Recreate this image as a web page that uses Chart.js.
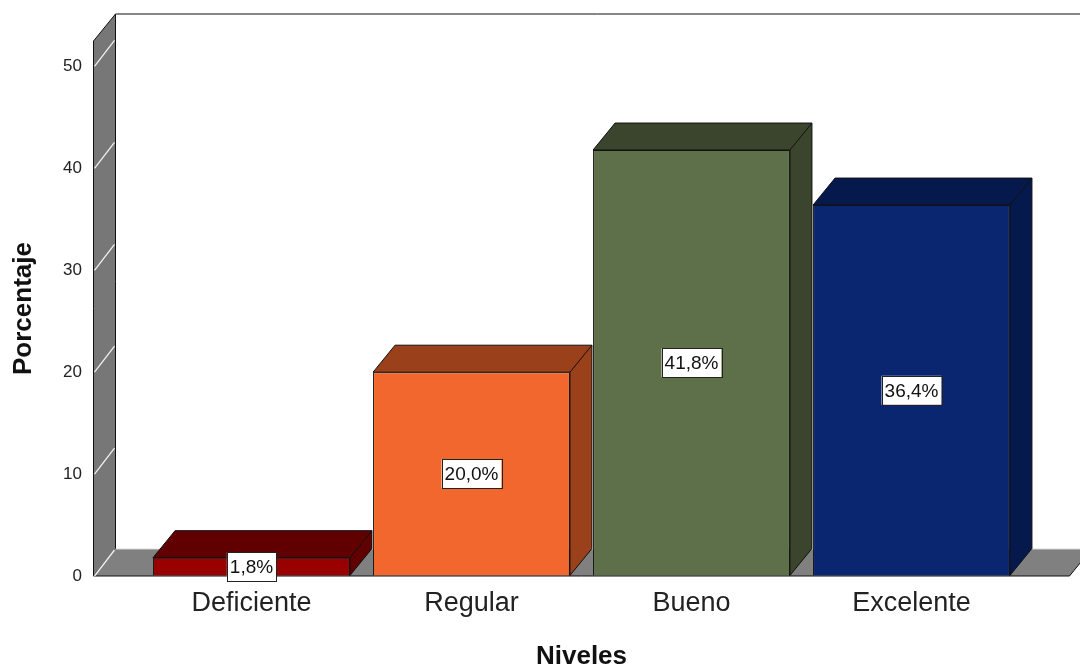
<!DOCTYPE html>
<html>
<head>
<meta charset="utf-8">
<script src="https://cdn.jsdelivr.net/npm/chart.js@4"></script>
<style>
  body { margin: 0; background: #fff; }
  #wrap { width: 1080px; height: 668px; }
</style>
</head>
<body>
<div id="wrap"><canvas id="barCanvasNiveles" width="1080" height="668"></canvas></div>
<script>
// Niveles y porcentajes
const niveles = ["Deficiente", "Regular", "Bueno", "Excelente"];
const porcentajes = [1.8, 20.0, 41.8, 36.4];
const coloresFrente = ["#990000", "#F2672E", "#5E704A", "#0A2670"];
const coloresSombra = ["#600000", "#9A401B", "#3B452D", "#06194D"];
const marcasY = [0, 10, 20, 30, 40, 50];

// profundidad del efecto 3D
const dx = 22, dy = 27;
const margenPared = 48;

const efecto3d = {
    id: 'efecto3d',
    beforeDatasetsDraw(chart) {
        const { ctx, chartArea } = chart;
        const y = chart.scales.y;
        const x0 = chartArea.left - margenPared;
        const x1 = chartArea.right + margenPared;
        const top = chartArea.top;
        const bottom = y.getPixelForValue(0);

        ctx.save();
        ctx.lineWidth = 1;

        // pared del fondo: borde superior
        ctx.strokeStyle = "#111";
        ctx.beginPath();
        ctx.moveTo(x0 + dx, top - dy);
        ctx.lineTo(chart.width, top - dy);
        ctx.stroke();

        // pared izquierda
        ctx.fillStyle = "#777777";
        ctx.beginPath();
        ctx.moveTo(x0, top);
        ctx.lineTo(x0 + dx, top - dy);
        ctx.lineTo(x0 + dx, bottom - dy);
        ctx.lineTo(x0, bottom);
        ctx.closePath();
        ctx.fill();
        ctx.stroke();

        // suelo
        ctx.fillStyle = "#808080";
        ctx.beginPath();
        ctx.moveTo(x0, bottom);
        ctx.lineTo(x0 + dx, bottom - dy);
        ctx.lineTo(x1 + dx, bottom - dy);
        ctx.lineTo(x1, bottom);
        ctx.closePath();
        ctx.fill();
        ctx.strokeStyle = "#d8d8d8";
        ctx.beginPath();
        ctx.moveTo(x0 + dx, bottom - dy);
        ctx.lineTo(x1 + dx, bottom - dy);
        ctx.stroke();
        ctx.strokeStyle = "#111";
        ctx.beginPath();
        ctx.moveTo(x0, bottom);
        ctx.lineTo(x1, bottom);
        ctx.lineTo(x1 + dx, bottom - dy);
        ctx.stroke();

        // líneas de la cuadrícula sobre la pared
        ctx.strokeStyle = "#f2f2f2";
        ctx.lineWidth = 1.3;
        marcasY.forEach(v => {
            const py = y.getPixelForValue(v);
            ctx.beginPath();
            ctx.moveTo(x0 + 1, py);
            ctx.lineTo(x0 + dx - 1, py - dy + 1);
            ctx.stroke();
        });
        ctx.lineWidth = 1;

        // cara superior y lateral de cada barra
        ctx.strokeStyle = "#111";
        chart.getDatasetMeta(0).data.forEach((bar, i) => {
            const { x, y: t, base, width } = bar.getProps(['x', 'y', 'base', 'width'], true);
            const l = x - width / 2, r = x + width / 2;
            ctx.fillStyle = coloresSombra[i];
            ctx.beginPath();
            ctx.moveTo(l, t);
            ctx.lineTo(l + dx, t - dy);
            ctx.lineTo(r + dx, t - dy);
            ctx.lineTo(r + dx, base - dy);
            ctx.lineTo(r, base);
            ctx.lineTo(r, t);
            ctx.closePath();
            ctx.fill();
            ctx.stroke();
            ctx.beginPath();
            ctx.moveTo(r, t);
            ctx.lineTo(r + dx, t - dy);
            ctx.stroke();
        });
        ctx.restore();
    },
    afterDatasetsDraw(chart) {
        // etiquetas con el porcentaje
        const { ctx } = chart;
        ctx.save();
        ctx.font = "19px 'Liberation Sans', Arial, sans-serif";
        ctx.textAlign = "center";
        ctx.textBaseline = "middle";
        chart.getDatasetMeta(0).data.forEach((bar, i) => {
            const texto = porcentajes[i].toFixed(1).replace('.', ',') + '%';
            const cy = (bar.y + bar.base) / 2;
            const w = ctx.measureText(texto).width + 6;
            const h = 29;
            ctx.fillStyle = "#fff";
            ctx.fillRect(bar.x - w / 2, cy - h / 2, w, h);
            ctx.strokeStyle = "#222";
            ctx.lineWidth = 1;
            ctx.strokeRect(Math.round(bar.x - w / 2) + 0.5, Math.round(cy - h / 2) + 0.5, Math.round(w), h);
            ctx.fillStyle = "#111";
            ctx.fillText(texto, bar.x, cy + 1);
        });
        ctx.restore();
    }
};

const barCanvasNiveles = document.getElementById('barCanvasNiveles');
const barChartNiveles = new Chart(barCanvasNiveles, {
    type: "bar",
    data: {
        labels: niveles,
        datasets: [{
            label: 'Porcentaje',
            data: porcentajes,
            backgroundColor: coloresFrente,
            borderColor: "#111",
            borderWidth: 1,
            barPercentage: 0.895,
            categoryPercentage: 1
        }]
    },
    options: {
        responsive: false,
        animation: false,
        layout: {
            padding: { top: 41, left: 8, right: 58.5, bottom: 0 }
        },
        plugins: {
            legend: { display: false },
            tooltip: { enabled: false }
        },
        scales: {
            y: {
                min: 0,
                max: 52.5,
                afterBuildTicks(scale) {
                    scale.ticks = marcasY.map(v => ({ value: v }));
                },
                afterFit(scale) { scale.width = 133.5; },
                // marcas invisibles para separar las etiquetas de la pared
                grid: {
                    display: true,
                    drawOnChartArea: false,
                    drawTicks: true,
                    tickLength: 56,
                    color: "transparent",
                    tickColor: "transparent"
                },
                border: { display: false },
                ticks: {
                    color: "#222",
                    padding: 3.5,
                    font: { family: "'Liberation Sans', Arial", size: 17 }
                },
                title: {
                    display: true,
                    text: "Porcentaje",
                    color: "#111",
                    padding: 0,
                    font: { family: "'Liberation Sans', Arial", size: 26, weight: "bold", lineHeight: 1.2 }
                }
            },
            x: {
                afterFit(scale) { scale.height = 92; },
                grid: { display: false, drawTicks: false },
                border: { display: false },
                ticks: {
                    color: "#222",
                    padding: 11,
                    font: { family: "'Liberation Sans', Arial", size: 27 }
                },
                title: {
                    display: true,
                    text: "Niveles",
                    color: "#111",
                    padding: 0,
                    font: { family: "'Liberation Sans', Arial", size: 26, weight: "bold", lineHeight: 0.85 }
                }
            }
        }
    },
    plugins: [efecto3d]
});
</script>
</body>
</html>
